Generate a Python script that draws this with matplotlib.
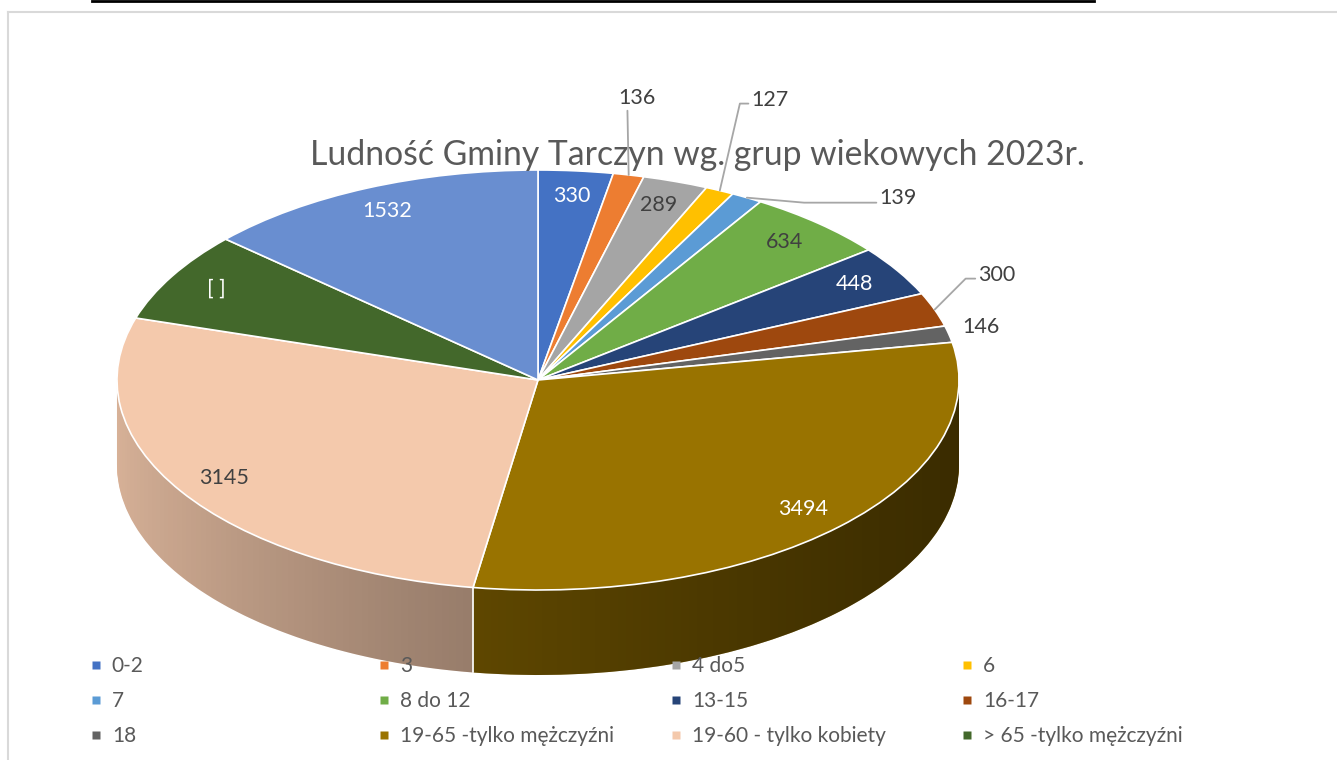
import numpy as np
import matplotlib
matplotlib.use("Agg")
import matplotlib.pyplot as plt
from matplotlib.lines import Line2D
from matplotlib.patches import Polygon
from matplotlib.colors import to_rgb

plt.rcParams['font.family'] = ['Lato', 'DejaVu Sans']

title = "Ludność Gminy Tarczyn wg. grup wiekowych 2023r."
groups = ["0-2", "3", "4 do5", "6", "7", "8 do 12", "13-15", "16-17", "18",
          "19-65 -tylko mężczyźni", "19-60 - tylko kobiety",
          "> 65 -tylko mężczyźni", "> 60 - tylko kobiety"]
counts = [330, 136, 289, 127, 139, 634, 448, 300, 146, 3494, 3145, 798, 1532]
value_labels = ["330", "136", "289", "127", "139", "634", "448", "300", "146",
                "3494", "3145", "[ ]", "1532"]
colors = ["#4472C4", "#ED7D31", "#A5A5A5", "#FFC000", "#5B9BD5", "#70AD47",
          "#264478", "#9E480E", "#636363", "#997300", "#F4C9AC", "#43682B",
          "#698ED0"]
label_colors = ["white", "#404040", "#404040", "#404040", "#404040", "#404040",
                "white", "#404040", "#404040", "white", "#404040", "white", "white"]

# labels drawn outside the pie: offset in pixels from the rim + leader style
outside = {
    1: ((8, 77), "arc3", (0.25, 0.0)),
    3: ((50, 91), "angle,angleA=0,angleB=77", (0.0, 0.3)),
    4: ((151, 0), "angle,angleA=0,angleB=-5", (0.0, 0.25)),
    7: ((62, 35), "angle,angleA=0,angleB=45", (0.0, 0.3)),
    8: ((32, 7), None, None),
}

W, H = 1337, 760
fig = plt.figure(figsize=(W / 100, H / 100), dpi=100)
ax = fig.add_axes([0, 0, 1, 1])

k = 210 / 421            # squash of the tilted pie
R = 421
cx, cy = 538, (H - 380) / k
depth = 85 / k

# side of the 3d pie: stacked copies going down
for off in np.linspace(depth, 1, 60):
    ax.pie(counts, colors=colors, startangle=90, counterclock=False, radius=R,
           center=(cx, cy - off), wedgeprops=dict(linewidth=0, zorder=1))

# darkening gradient on the side
t = np.linspace(np.pi, 2 * np.pi, 200)
band = np.concatenate([np.c_[cx + R * np.cos(t), cy + R * np.sin(t)],
                       np.c_[cx + R * np.cos(t[::-1]), cy - depth + R * np.sin(t[::-1])]])
band_patch = Polygon(band, closed=True, facecolor='none', edgecolor='none')
ax.add_patch(band_patch)
u = np.linspace(0, 1, 400)
grad = np.zeros((1, len(u), 4))
grad[..., 3] = 1 - (0.88 - 0.5 * u ** 0.75)
im = ax.imshow(grad, extent=(cx - R, cx + R, cy - R - depth, cy), aspect='auto',
               interpolation='bilinear', zorder=2)
im.set_clip_path(band_patch)

# seam on the side between the two big slices
seam = np.deg2rad(90 - 360 * sum(counts[:10]) / sum(counts))
sx = cx + R * np.cos(seam)
sy = cy + R * np.sin(seam)
ax.plot([sx, sx], [sy, sy - depth], color='white', lw=1.2, zorder=2.5)

# top face
wedges = ax.pie(counts, colors=colors, startangle=90, counterclock=False, radius=R,
                center=(cx, cy),
                wedgeprops=dict(edgecolor='white', linewidth=1.2, zorder=3))[0]

for i, w in enumerate(wedges):
    mid = np.deg2rad((w.theta1 + w.theta2) / 2)
    if i in outside:
        (dx, dy), conn, rel = outside[i]
        xy = (cx + R * np.cos(mid), cy + R * np.sin(mid))
        props = None
        if conn:
            props = dict(arrowstyle='-', color='#A6A6A6', lw=1.3, connectionstyle=conn,
                         relpos=rel, shrinkA=0, shrinkB=0)
        ax.annotate(value_labels[i], xy=xy, xytext=(dx, dy), textcoords='offset pixels',
                    ha='center', va='center', fontsize=15.5, color='#404040',
                    arrowprops=props, zorder=5)
    else:
        f = 0.88
        ax.text(cx + f * R * np.cos(mid), cy + f * R * np.sin(mid), value_labels[i],
                ha='center', va='center', fontsize=15.5, color=label_colors[i], zorder=5)

ax.set_xlim(0, W)
ax.set_ylim(0, H / k)
ax.set_aspect('auto')
ax.axis('off')

fig.text(697 / W, 1 - 155 / H, title, ha='center', va='center', fontsize=24.3,
         color='#595959')

# legend, 4 columns filled row by row
handles = [Line2D([], [], marker='s', linestyle='none', markersize=6,
                  markerfacecolor=c, markeredgecolor='none') for c in colors[:12]]
col_x = [97, 385, 677, 968]
for j in range(4):
    idx = [j, j + 4, j + 8]
    fig.legend([handles[i] for i in idx], [groups[i] for i in idx], loc='upper left',
               bbox_to_anchor=((col_x[j] - 7) / W, 1 - 656 / H), frameon=False,
               fontsize=15, labelcolor='#595959', handlelength=0.6, handletextpad=0.45,
               labelspacing=0.72, borderpad=0, borderaxespad=0)

# frame lines
fig.add_artist(Line2D([8 / W, 8 / W], [0, 1 - 12 / H], color='#D9D9D9', lw=1.5))
fig.add_artist(Line2D([8 / W, 1], [1 - 12 / H, 1 - 12 / H], color='#D9D9D9', lw=1.5))
fig.add_artist(Line2D([92 / W, 1094 / W], [1 - 1 / H, 1 - 1 / H], color='black', lw=2))

fig.savefig("out.png", dpi=100)
